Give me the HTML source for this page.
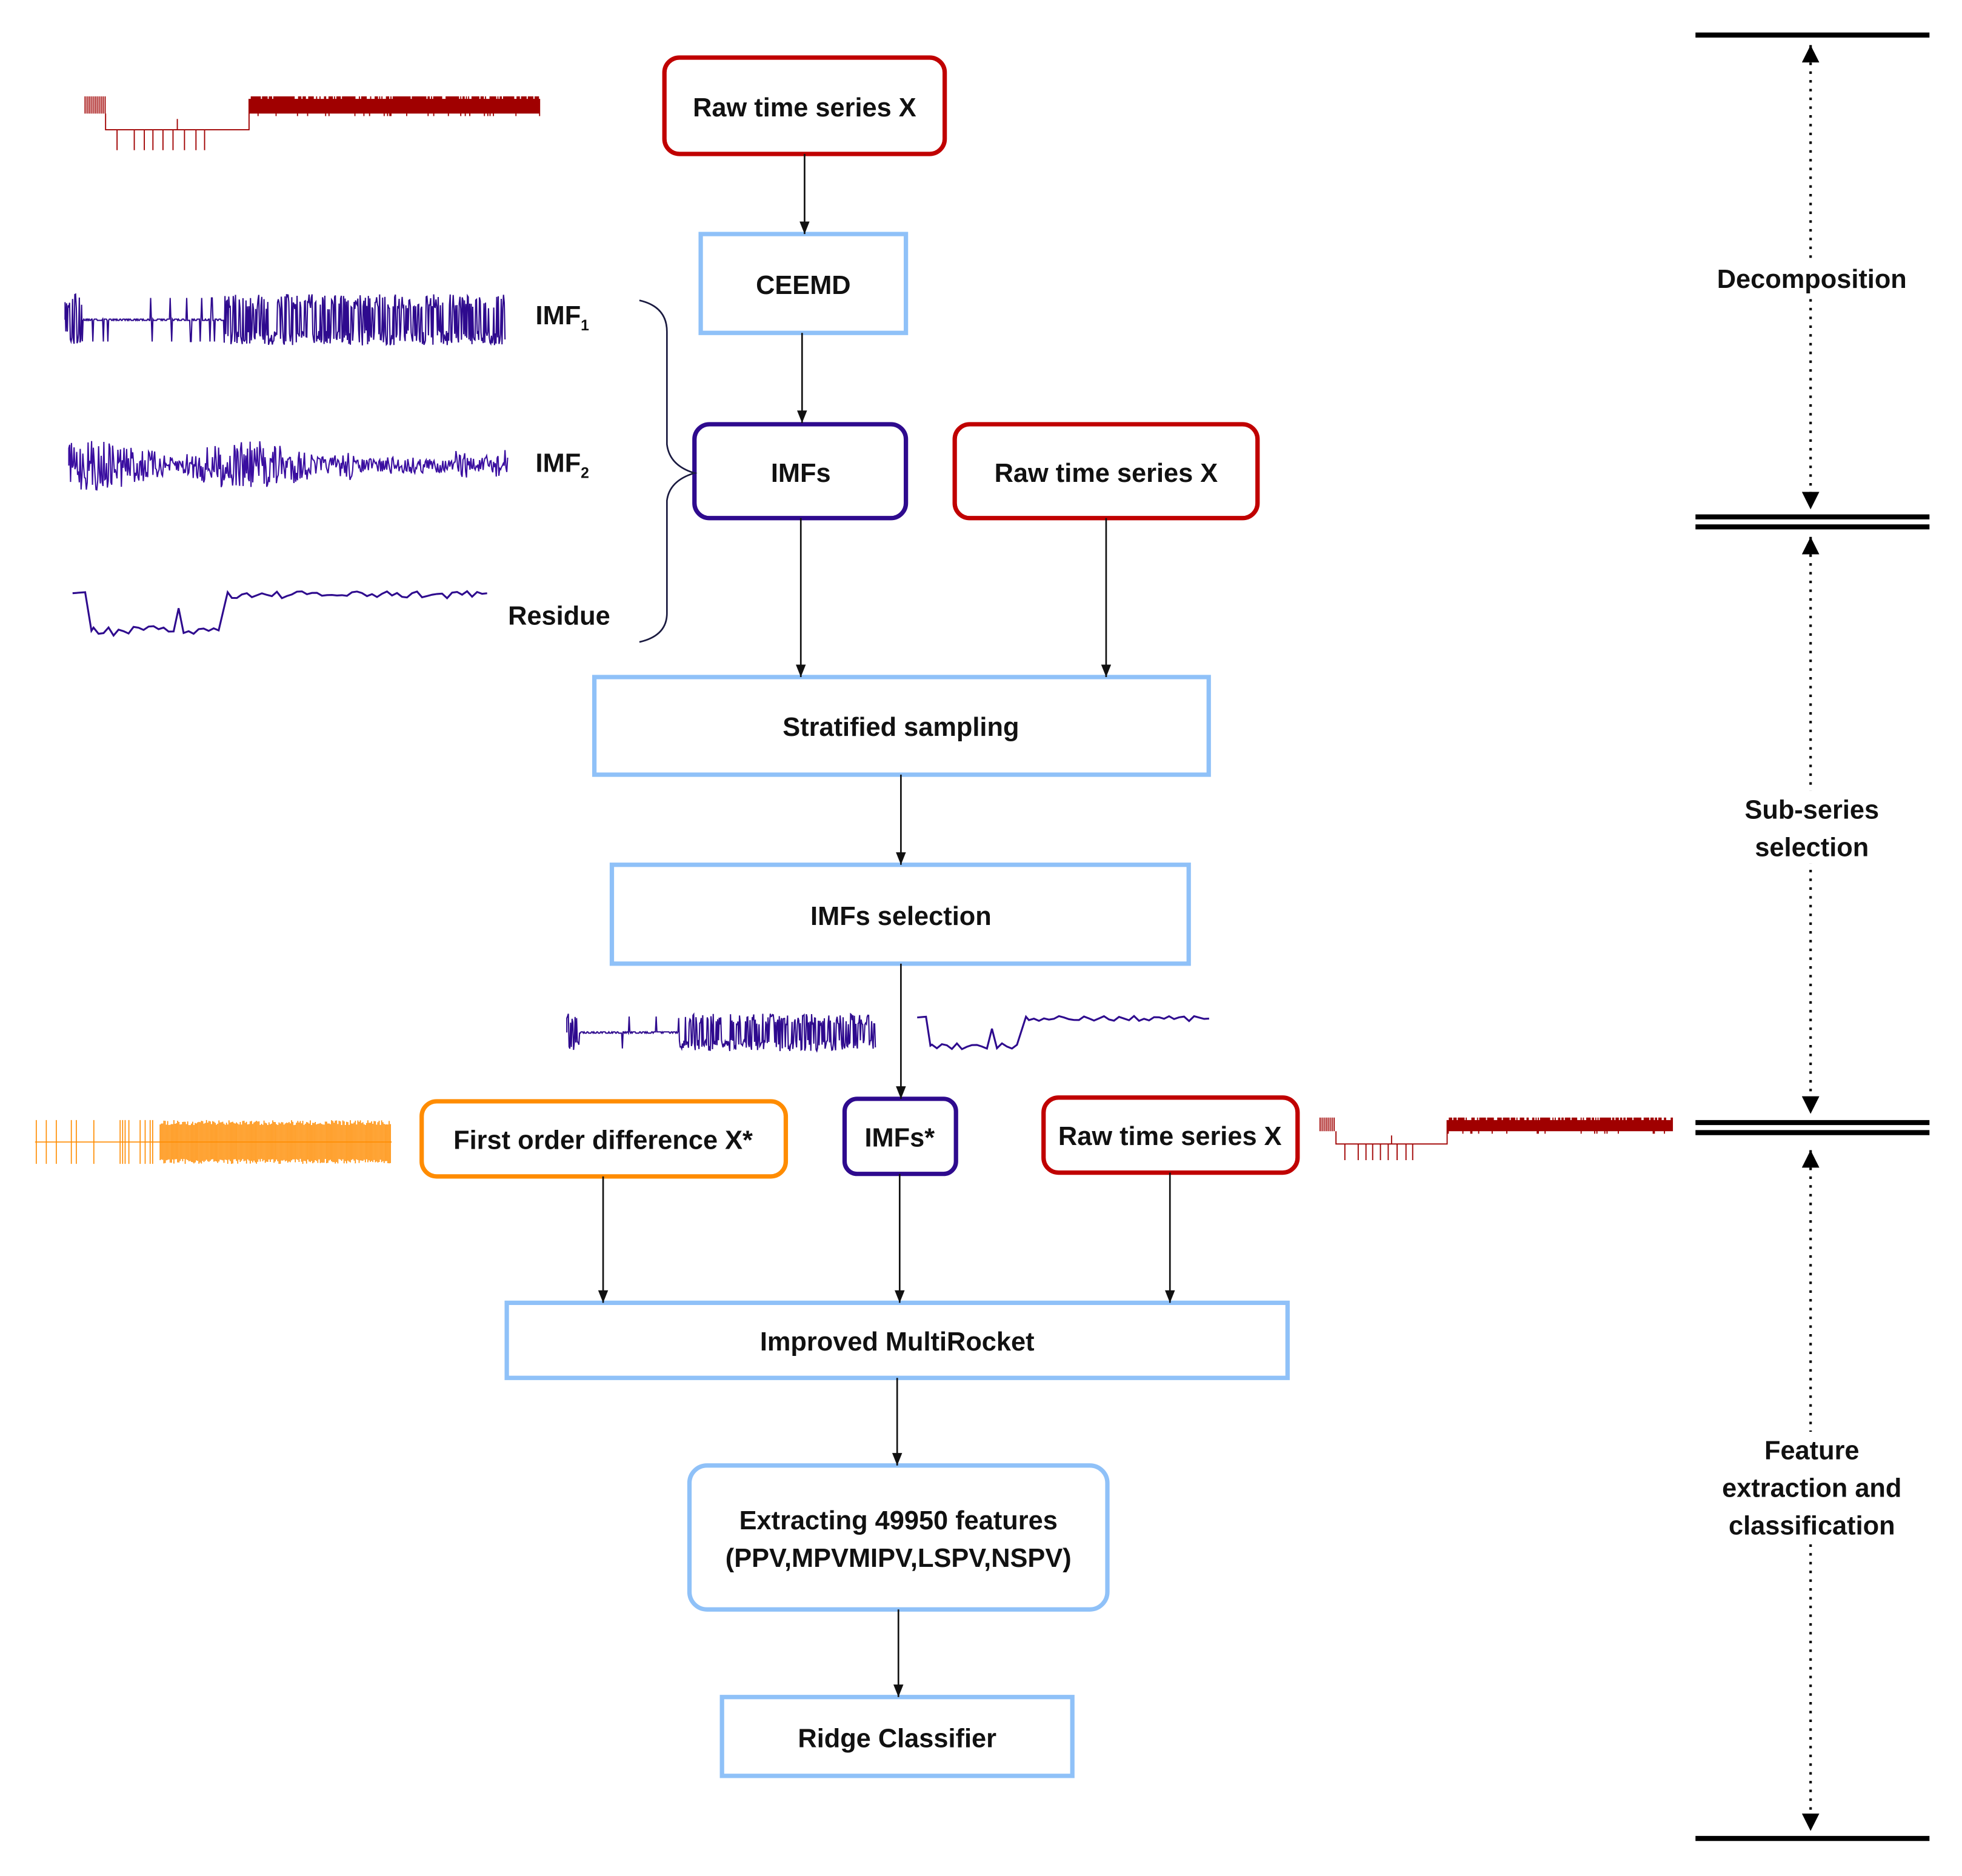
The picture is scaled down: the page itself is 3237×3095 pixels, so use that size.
<!DOCTYPE html>
<html><head><meta charset="utf-8"><style>html,body{margin:0;padding:0;background:#fff}svg{display:block}text{font-family:"Liberation Sans",sans-serif;font-weight:bold;fill:#111}</style></head>
<body>
<svg id="s" width="3237" height="3095" viewBox="0 0 1568 1499" preserveAspectRatio="none" xmlns="http://www.w3.org/2000/svg">
<defs><marker id="a" markerWidth="10" markerHeight="8" refX="10" refY="4" orient="auto-start-reverse" markerUnits="userSpaceOnUse" viewBox="0 0 10 8"><path d="M0,0 L10,4 L0,8 Z" fill="#111"/></marker>
<marker id="b" markerWidth="14" markerHeight="14" refX="14" refY="7" orient="auto-start-reverse" markerUnits="userSpaceOnUse" viewBox="0 0 14 14"><path d="M0,0 L14,7 L0,14 Z" fill="#000"/></marker></defs>
<g fill="none" stroke-width="3.5">
<rect x="531" y="46" width="224" height="77" rx="12" stroke="#c00000"/>
<rect x="560" y="187" width="164" height="79" stroke="#8fc1f8"/>
<rect x="555" y="339" width="169" height="75" rx="12" stroke="#2e0a8e"/>
<rect x="763" y="339" width="242" height="75" rx="12" stroke="#c00000"/>
<rect x="475" y="541" width="491" height="78" stroke="#8fc1f8"/>
<rect x="489" y="691" width="461" height="79" stroke="#8fc1f8"/>
<rect x="337" y="880" width="291" height="60" rx="12" stroke="#ff8c00"/>
<rect x="675" y="878" width="89" height="60" rx="10" stroke="#2e0a8e"/>
<rect x="834" y="877" width="203" height="60" rx="12" stroke="#c00000"/>
<rect x="405" y="1041" width="624" height="60" stroke="#8fc1f8"/>
<rect x="551" y="1171" width="334" height="115" rx="14" stroke="#8fc1f8"/>
<rect x="577" y="1356" width="280" height="63" stroke="#8fc1f8"/>
</g>
<g stroke="#111" stroke-width="1.3" marker-end="url(#a)">
<line x1="643" y1="123" x2="643" y2="187"/><line x1="641" y1="266" x2="641" y2="338"/>
<line x1="640" y1="414" x2="640" y2="541"/><line x1="884" y1="414" x2="884" y2="541"/>
<line x1="720" y1="619" x2="720" y2="691"/><line x1="720" y1="770" x2="720" y2="878"/>
<line x1="482" y1="940" x2="482" y2="1041"/><line x1="719" y1="938" x2="719" y2="1041"/>
<line x1="935" y1="937" x2="935" y2="1041"/><line x1="717" y1="1101" x2="717" y2="1171"/>
<line x1="718" y1="1286" x2="718" y2="1356"/>
</g>
<path d="M511,240 Q533,245 533,265 L533,355 Q535,372 555,378 Q535,384 533,400 L533,490 Q533,508 511,513" fill="none" stroke="#1a1a40" stroke-width="1.3"/>
<g stroke="#000" stroke-width="4"><line x1="1355" y1="28" x2="1542" y2="28"/><line x1="1355" y1="413" x2="1542" y2="413"/><line x1="1355" y1="421" x2="1542" y2="421"/><line x1="1355" y1="897" x2="1542" y2="897"/><line x1="1355" y1="905" x2="1542" y2="905"/><line x1="1355" y1="1469" x2="1542" y2="1469"/></g>
<g stroke="#000" stroke-width="2" stroke-dasharray="2,5" marker-start="url(#b)" marker-end="url(#b)">
<line x1="1447" y1="36" x2="1447" y2="407"/><line x1="1447" y1="429" x2="1447" y2="890"/><line x1="1447" y1="919" x2="1447" y2="1463"/></g>
<g font-size="21" text-anchor="middle">
<text x="643" y="93">Raw time series X</text><text x="642" y="235">CEEMD</text><text x="640" y="385">IMFs</text>
<text x="884" y="385">Raw time series X</text><text x="720" y="588">Stratified sampling</text><text x="720" y="739">IMFs selection</text>
<text x="482" y="918">First order difference X*</text><text x="719" y="916">IMFs*</text><text x="935" y="915">Raw time series X</text>
<text x="717" y="1079">Improved MultiRocket</text><text x="718" y="1222">Extracting 49950 features</text><text x="718" y="1252">(PPV,MPVMIPV,LSPV,NSPV)</text>
<text x="717" y="1396">Ridge Classifier</text>
<g fill="#fff"><rect x="1370" y="208" width="156" height="28"/><rect x="1390" y="632" width="116" height="58"/><rect x="1370" y="1144" width="156" height="88"/></g>
<text x="1448" y="230">Decomposition</text><text x="1448" y="654">Sub-series</text><text x="1448" y="684">selection</text>
<text x="1448" y="1166">Feature</text><text x="1448" y="1196">extraction and</text><text x="1448" y="1226">classification</text>
</g>
<g font-size="21"><text x="428" y="259">IMF<tspan font-size="12" dy="5">1</tspan></text><text x="428" y="377">IMF<tspan font-size="12" dy="5">2</tspan></text><text x="406" y="499">Residue</text></g>
<g id="sig"></g>
</svg>
<script>
(function(){
var g=document.getElementById('sig'),ns='http://www.w3.org/2000/svg';
var seed=7;function r(){seed=(seed*16807)%2147483647;return seed/2147483647;}
function P(d,c,w){var p=document.createElementNS(ns,'path');p.setAttribute('d',d);p.setAttribute('stroke',c);p.setAttribute('stroke-width',w||1);p.setAttribute('fill','none');g.appendChild(p);}
function raw(x0,x1,y0,y1,c){var W=x1-x0,H=y1-y0,d='',a=x0+W*0.045,b=x0+W*0.36,top=y0,bot=y0+H*0.32,base=y0+H*0.62;
for(var x=x0;x<a;x+=1.6)d+='M'+x+','+top+'V'+bot;for(var x=b;x<x1;x+=0.9)d+='M'+x+','+(top+(r()<0.3?2:0))+'V'+(bot+(r()<0.1?2:0));
d+='M'+a+','+bot+'V'+base+'H'+b+'V'+bot;var n=[0.08,0.2,0.27,0.33,0.4,0.47,0.55,0.63,0.69];for(var i=0;i<n.length;i++){var x=a+(b-a)*n[i];d+='M'+x+','+base+'V'+y1;}
var xs=a+(b-a)*0.5;d+='M'+xs+','+base+'V'+(base-H*0.2);P(d,c,0.9);}
function imf1(x0,x1,y0,y1,c){var W=x1-x0,m=(y0+y1)/2,H=(y1-y0)/2,d='M'+x0+','+m,s=x0+W*0.36;
for(var x=x0;x<x1;x+=0.6){var amp=(x<x0+W*0.04||x>s)?H*(0.4+0.6*r()):(r()<0.05?H*0.85:0.5);d+='L'+x+','+(m+(r()<0.5?-1:1)*amp);}P(d,c,1);}
function imf2(x0,x1,y0,y1,c){var W=x1-x0,m=(y0+y1)/2,H=(y1-y0)/2,d='M'+x0+','+m;
for(var x=x0;x<x1;x+=0.7){var t=(x-x0)/W,e=0.3+0.7*Math.abs(Math.sin(t*9+1));if(t>0.65&&t<0.88)e*=0.35;d+='L'+x+','+(m+(r()*2-1)*H*e);}P(d,c,1);}
function resid(x0,x1,y0,y1,c){var W=x1-x0,H=y1-y0,hi=y0+H*0.08,lo=y0+H*0.85,d='M'+x0+','+(y0+H*0.1)+'L'+(x0+W*0.03)+','+hi+'L'+(x0+W*0.045)+','+lo;
for(var x=x0+W*0.05;x<x0+W*0.35;x+=4){if(Math.abs(x-(x0+W*0.25))<2){d+='L'+x+','+(lo-H*0.45);}else d+='L'+x+','+(lo+(r()*2-1)*H*0.1);}
d+='L'+(x0+W*0.37)+','+hi;
for(var x=x0+W*0.38;x<x1;x+=4){d+='L'+x+','+(hi+H*0.05+(r()*2-1)*H*0.07);}P(d,c,1.5);}
function orange(x0,x1,y0,y1,c){var W=x1-x0,d='',m=(y0+y1)/2;d+='M'+x0+','+m+'H'+x1;
for(var x=x0;x<x1;x+=1.0){if(x<x0+W*0.35){if(r()<0.1)d+='M'+x+','+y0+'V'+y1;}else d+='M'+x+','+(y0+r()*4)+'V'+(y1-r()*4);}P(d,c,0.8);}
raw(68,432,77,120,'#a00000');
imf1(52,404,235,276,'#2e0a8e');imf2(55,406,352,392,'#3a0ea0');resid(58,393,470,510,'#2e0a8e');
imf1(453,700,810,840,'#2e0a8e');resid(733,968,810,840,'#2e0a8e');
orange(28,313,895,930,'#ff8c00');raw(1055,1337,893,927,'#a00000');
})();
</script>
</body></html>
